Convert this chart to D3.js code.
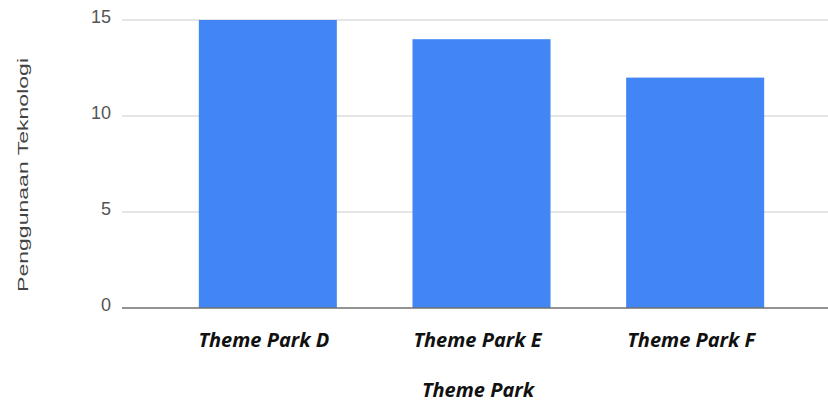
<!DOCTYPE html>
<html>
<head>
<meta charset="utf-8">
<script src="https://cdn.jsdelivr.net/npm/d3@7"></script>
<style>
  html, body { margin: 0; padding: 0; background: #fff; }
  svg { display: block; }
</style>
</head>
<body>
<svg id="chart" width="828" height="403"></svg>
<script>
// Technology usage per theme park
const categories = ["Theme Park D", "Theme Park E", "Theme Park F"];
const usage = [15, 14, 12];
const yTicks = [0, 5, 10, 15];
const yTitle = "Penggunaan Teknologi";
const xTitle = "Theme Park";

const W = 828, H = 403;
const gridLeft = 122, gridRight = 828;
const plotTop = 20, plotBottom = 308;

const svg = d3.select("#chart");

const y = d3.scaleLinear().domain([0, 15]).range([plotBottom, plotTop]);
const x = d3.scaleBand()
  .domain(categories)
  .range([161, 802])
  .paddingInner(0.354)
  .paddingOuter(0.177);

// horizontal gridlines
svg.append("g")
  .selectAll("line")
  .data(yTicks.filter(t => t !== 0))
  .join("line")
  .attr("x1", gridLeft).attr("x2", gridRight)
  .attr("y1", d => y(d)).attr("y2", d => y(d))
  .attr("stroke", "#dcdcdc")
  .attr("stroke-width", 1.5);

// bars
svg.append("g")
  .selectAll("rect")
  .data(categories)
  .join("rect")
  .attr("x", d => x(d))
  .attr("width", x.bandwidth())
  .attr("y", (d, i) => y(usage[i]))
  .attr("height", (d, i) => y(0) - y(usage[i]))
  .attr("fill", "#4285f4");

// baseline
svg.append("line")
  .attr("x1", gridLeft).attr("x2", gridRight)
  .attr("y1", y(0)).attr("y2", y(0))
  .attr("stroke", "#6f6f6f")
  .attr("stroke-width", 1.5);

// y tick labels
const yAxis = d3.axisLeft(y).tickValues(yTicks).tickSize(0).tickPadding(0);
const gy = svg.append("g").attr("transform", `translate(111,0)`).call(yAxis);
gy.select(".domain").remove();
gy.selectAll("text")
  .attr("dy", "0.3em")
  .attr("font-family", "Arial, 'Liberation Sans', sans-serif")
  .attr("font-size", 18)
  .attr("fill", "#555");
gy.selectAll(".tick").attr("transform", d => `translate(0,${y(d) - 2})`);

// category labels
const xAxis = d3.axisBottom(x).tickSize(0).tickPadding(0);
const gx = svg.append("g").call(xAxis);
gx.select(".domain").remove();
gx.selectAll("text")
  .attr("y", 347)
  .attr("dy", 0)
  .attr("dx", -4)
  .attr("font-family", "'Open Sans', sans-serif")
  .attr("font-weight", "bold")
  .attr("font-style", "italic")
  .attr("font-size", 20)
  .attr("fill", "#111");

// axis titles
svg.append("text")
  .attr("transform", "translate(28,175) rotate(-90)")
  .attr("text-anchor", "middle")
  .attr("font-family", "Arial, 'Liberation Sans', sans-serif")
  .attr("font-size", 15)
  .attr("textLength", 234)
  .attr("lengthAdjust", "spacingAndGlyphs")
  .attr("fill", "#444")
  .text(yTitle);

svg.append("text")
  .attr("x", 478)
  .attr("y", 397)
  .attr("text-anchor", "middle")
  .attr("font-family", "'Open Sans', sans-serif")
  .attr("font-weight", "bold")
  .attr("font-style", "italic")
  .attr("font-size", 20)
  .attr("fill", "#111")
  .text(xTitle);
</script>
</body>
</html>
